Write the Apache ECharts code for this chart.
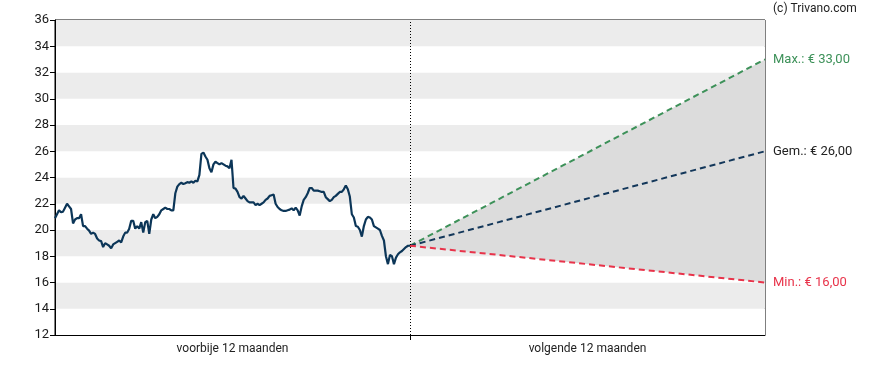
<!DOCTYPE html>
<html>
<head>
<meta charset="utf-8">
<script src="https://cdn.jsdelivr.net/npm/echarts@6/dist/echarts.min.js"></script>
<style>
html,body{margin:0;padding:0;background:#fff;}
#c{width:888px;height:370px;}
</style>
</head>
<body>
<div id="c"></div>
<script>
// historic closing prices over the past 12 months (evenly spaced)
const history = [
20.9,21.2,21.5,21.35,21.4,21.7,22.0,21.8,21.6,20.5,20.8,20.9,20.9,21.2,20.3,20.3,20.1,19.95,19.7,19.8,
19.7,19.35,19.2,19.15,18.7,19.0,18.9,18.8,18.6,18.9,19.0,19.1,19.2,19.05,19.5,19.8,19.8,20.1,20.7,20.7,
20.1,20.3,20.1,20.6,19.8,20.6,20.7,19.7,20.8,21.2,20.9,21.0,21.2,21.5,21.6,21.7,21.6,21.6,21.5,21.5,
22.8,23.3,23.5,23.6,23.5,23.56,23.65,23.6,23.7,23.6,23.75,23.7,24.2,25.8,25.9,25.6,25.35,24.7,24.4,25.0,
25.2,25.1,25.0,25.1,25.0,24.9,24.85,24.7,25.35,23.2,23.15,22.9,22.5,22.4,22.6,22.4,22.2,22.1,22.1,22.1,
21.9,22.0,21.9,22.0,22.1,22.3,22.4,22.6,22.65,22.7,22.0,21.75,21.6,21.5,21.45,21.45,21.5,21.55,21.65,21.5,
21.7,21.5,21.1,21.8,22.3,22.5,22.8,23.2,23.2,23.0,23.0,23.0,22.95,22.9,22.9,22.5,22.35,22.2,22.3,22.5,
22.6,22.75,22.9,22.9,23.1,23.4,23.1,22.55,21.2,20.95,20.3,20.25,20.0,19.5,20.3,20.8,21.0,20.95,20.8,20.3,
20.2,20.1,20.0,19.55,19.2,18.0,17.4,18.1,18.0,17.4,17.9,18.15,18.3,18.4,18.55,18.7,18.8,18.8
];
// price targets for the next 12 months
const targetMax = 33.0;
const targetAvg = 26.0;
const targetMin = 16.0;
const periodLabels = ['voorbije 12 maanden', 'volgende 12 maanden'];
const yTicks = [12,14,16,18,20,22,24,26,28,30,32,34,36];

const lastPrice = history[history.length - 1];
const histData = history.map((v, i) => [i / (history.length - 1), v]);
const fmt = v => '€ ' + v.toFixed(2).replace('.', ',');

const chart = echarts.init(document.getElementById('c'), null, {renderer: 'canvas'});
const font = 'Roboto, "DejaVu Sans", sans-serif';

chart.setOption({
  animation: false,
  backgroundColor: '#fff',
  textStyle: {fontFamily: font},
  graphic: [{
    type: 'text', left: 773, top: 3,
    style: {text: '(c) Trivano.com', fill: '#222', font: '12px ' + font}
  }],
  grid: {left: 55, right: 123, top: 20, bottom: 35, show: true, borderColor: '#000', borderWidth: 1},
  xAxis: {
    type: 'value', min: 0, max: 2,
    axisLine: {show: true, lineStyle: {color: '#000', width: 1}},
    splitLine: {show: false},
    axisTick: {show: true, customValues: [1], length: 5, lineStyle: {color: '#000'}},
    axisLabel: {
      customValues: [0.5, 1.5], color: '#222', fontSize: 12, fontFamily: font, margin: 8,
      formatter: v => (v < 1 ? periodLabels[0] : periodLabels[1])
    }
  },
  yAxis: {
    type: 'value', min: yTicks[0], max: yTicks[yTicks.length - 1], interval: 2,
    axisLine: {show: true, lineStyle: {color: '#000', width: 1}},
    axisTick: {show: true, length: 5, lineStyle: {color: '#000'}},
    axisLabel: {color: '#1a1a1a', fontSize: 13, fontFamily: font, margin: 6},
    splitLine: {show: false},
    splitArea: {show: true, areaStyle: {color: ['#ffffff', '#ececec']}}
  },
  series: [
    {
      name: 'band', type: 'custom', silent: true, z: 2,
      data: [[1, lastPrice, lastPrice], [2, targetMin, targetMax]],
      renderItem: function (params, api) {
        if (params.dataIndex !== 0) return null;
        const p0lo = api.coord([1, lastPrice]);
        const p1lo = api.coord([2, targetMin]);
        const p1hi = api.coord([2, targetMax]);
        return {
          type: 'polygon',
          shape: {points: [p0lo, p1hi, p1lo]},
          style: {fill: '#dcdcdc'}
        };
      }
    },
    {
      name: 'Max.', type: 'line', symbol: 'none',
      data: [[1, lastPrice], [2, targetMax]],
      lineStyle: {color: '#3d9159', width: 2, type: [6, 4]}, z: 3,
      endLabel: {show: true, formatter: 'Max.: ' + fmt(targetMax), color: '#3d9159', fontSize: 13, fontFamily: font, distance: 8}
    },
    {
      name: 'Gem.', type: 'line', symbol: 'none',
      data: [[1, lastPrice], [2, targetAvg]],
      lineStyle: {color: '#13375a', width: 2, type: [6, 4]}, z: 3,
      endLabel: {show: true, formatter: 'Gem.: ' + fmt(targetAvg), color: '#222', fontSize: 13, fontFamily: font, distance: 8}
    },
    {
      name: 'Min.', type: 'line', symbol: 'none',
      data: [[1, lastPrice], [2, targetMin]],
      lineStyle: {color: '#e8334a', width: 2, type: [6, 4]}, z: 3,
      endLabel: {show: true, formatter: 'Min.: ' + fmt(targetMin), color: '#e8334a', fontSize: 13, fontFamily: font, distance: 8}
    },
    {
      name: 'Koers', type: 'line', symbol: 'none',
      data: histData,
      lineStyle: {color: '#0c3658', width: 2.2}, z: 4,
      markLine: {
        silent: true, symbol: 'none', label: {show: false},
        lineStyle: {color: '#000', type: [1, 2], width: 1},
        data: [{xAxis: 1}]
      }
    }
  ]
});
</script>
</body>
</html>
